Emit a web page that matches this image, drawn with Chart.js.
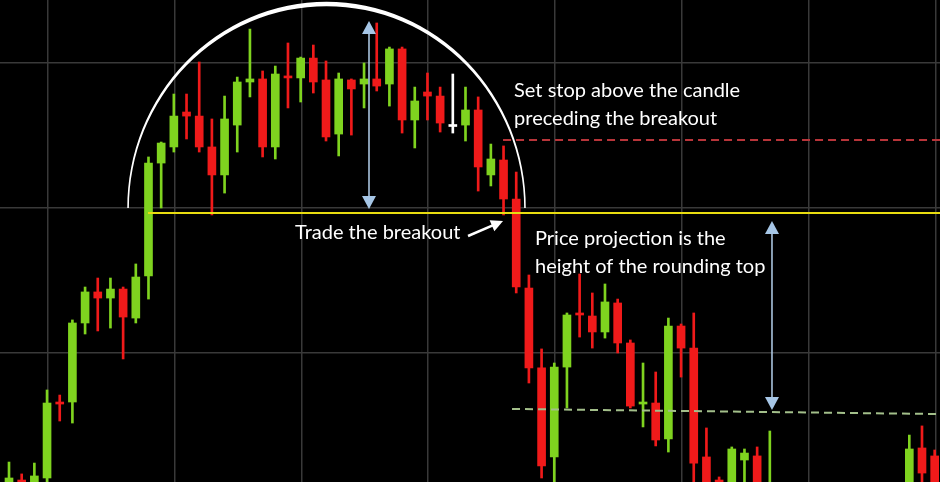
<!DOCTYPE html>
<html>
<head>
<meta charset="utf-8">
<title>Rounding top</title>
<script src="https://cdn.jsdelivr.net/npm/chart.js@4.4.0/dist/chart.umd.min.js"></script>
<style>
    html, body { margin: 0; padding: 0; background: #000; }
    #wrap { width: 940px; height: 482px; }
</style>
</head>
<body>
<div id="wrap"><canvas id="chart"></canvas></div>
<script>
// Données des bougies (null = hors de l'écran)
const opens = [0, 12.4, 5, 13.8, 66.2, 66.2, 120.7, 142.1, 137.9, 144.1,
    124.1, 153.1, 231.0, 242.1, 266.2, 263.4, 242.1, 222.8, 257.2, 286.9,
    289.0, 242.1, 291.0, 289.7, 303.4, 288.3, 251.0, 288.3, 285.5, 289.0,
    285.5, 309.7, 260.7, 280.0, 277.2, 256.2, 257.2, 267.6, 222.8, 233.1,
    206.2, 144.8, 89.7, 28.3, 90.3, 127.6, 125.5, 114.5, 134.5, 106.9,
    64.8, 65.5, 40.7, 118.6, 103.4, 28.3, 12.4, 0, 26.2, 29.0,
    0, null, null, null, null, null, null, null, null, null,
    null, 0, 34.5, 29.0];
const highs = [24.8, 16.6, 24.1, 74.5, 71.0, 122.8, 145.5, 151.7, 151.7, 145.5,
    161.4, 235.2, 245.5, 278.6, 278.6, 300.7, 261.4, 277.2, 290.3, 323.4,
    294.5, 297.9, 313.8, 304.1, 312.4, 301.4, 293.1, 289.0, 300.0, 327.6,
    311.0, 311.0, 283.4, 293.1, 283.4, 292.4, 283.4, 276.6, 244.1, 242.8,
    224.8, 153.8, 102.8, 93.1, 127.6, 154.5, 141.4, 147.6, 137.2, 109.0,
    93.1, 86.9, 124.1, 120.0, 127.6, 48.3, 14.5, 35.2, 33.8, 35.2,
    46.2, null, null, null, null, null, null, null, null, null,
    null, 43.4, 49.7, 33.1];
const lows = [-5, -5, -5, 9.0, 53.1, 51.7, 113.1, 115.2, 117.2, 95.9,
    120.7, 137.2, 200.0, 238.6, 247.6, 238.6, 195.2, 210.3, 238.6, 276.6,
    235.2, 233.8, 269.0, 273.1, 279.3, 246.2, 235.9, 250.3, 269.0, 280.7,
    270.3, 251.7, 241.4, 260.7, 252.4, 251.7, 246.2, 211.7, 215.2, 195.2,
    141.4, 79.3, 13.8, 8.0, 62.1, 111.0, 103.4, 110.3, 100.0, 62.1,
    49.0, 35.9, 31.7, 83.4, 5.5, 0, 0, -5, 0, -5,
    -5, null, null, null, null, null, null, null, null, null,
    null, -5, 0, 0];
const closes = [13.8, 5, 15.2, 65.5, 64.8, 120.7, 142.1, 137.9, 144.1, 124.8,
    152.4, 231.0, 244.8, 263.4, 263.4, 242.1, 222.8, 261.4, 286.9, 289.0,
    242.1, 292.4, 289.7, 303.4, 286.9, 249.0, 289.0, 282.1, 289.0, 284.1,
    309.7, 260.7, 273.8, 277.2, 258.6, 256.2, 267.6, 228.3, 233.8, 206.2,
    145.5, 89.7, 22.1, 90.3, 126.2, 126.2, 114.5, 135.2, 106.9, 63.4,
    66.2, 40.0, 118.6, 103.4, 24.1, 5.5, 2, 33.8, 31.0, 0,
    5, null, null, null, null, null, null, null, null, null,
    null, 33.8, 17.2, 5];

// Grille
const gridX = [3.05, 13.05, 23.05, 33.05, 43.05, 53.05, 63.05, 73.05];
const gridY = [100, 200, 300];

// Niveaux du schéma
const breakoutLevel = 196.6;
const stopLevel = 246.9;
const targetLevel = [61.4, 57.9];

// Couleurs
const GREEN = '#7fd31f';
const RED = '#f01a1a';
const WHITE = '#ffffff';

// Bougies valides uniquement
const candles = [];
opens.forEach((o, i) => {
    if (o === null) return;
    const c = closes[i];
    candles.push({
        i: i,
        body: [o, c],
        wick: [lows[i], highs[i]],
        color: c > o ? GREEN : (c < o ? RED : WHITE)
    });
});

// Plugin pour les annotations (arc, lignes, flèches, textes)
const annotations = {
    id: 'annotations',
    afterDatasetsDraw(chart) {
        const ctx = chart.ctx;
        const x = chart.scales.x;
        const y = chart.scales.y;
        const px = v => x.getPixelForValue(v);
        const py = v => y.getPixelForValue(v);
        ctx.save();

        // Arc du sommet arrondi
        const cx = px(25.04), cy = py(200);
        const rx = px(25.04 + 15.65) - cx;
        const ry = cy - py(200 + 140.7);
        ctx.beginPath();
        ctx.ellipse(cx, cy, rx + 0.8, ry + 2.2, 0, Math.PI, 2 * Math.PI);
        ctx.ellipse(cx, cy, rx - 0.8, ry - 2.2, 0, 2 * Math.PI, Math.PI, true);
        ctx.closePath();
        ctx.fillStyle = WHITE;
        ctx.fill();

        // Ligne de cassure
        ctx.strokeStyle = '#e8dc10';
        ctx.lineWidth = 2;
        ctx.beginPath();
        ctx.moveTo(px(10.96), py(breakoutLevel));
        ctx.lineTo(chart.chartArea.right, py(breakoutLevel));
        ctx.stroke();

        // Stop (pointillés rouges)
        ctx.setLineDash([8, 5]);
        ctx.strokeStyle = '#b8353a';
        ctx.beginPath();
        ctx.moveTo(px(38.96), py(stopLevel));
        ctx.lineTo(chart.chartArea.right, py(stopLevel));
        ctx.stroke();

        // Objectif (pointillés verts)
        ctx.strokeStyle = '#a3bf8a';
        ctx.beginPath();
        ctx.moveTo(px(39.67), py(targetLevel[0]));
        ctx.lineTo(px(73.42), py(targetLevel[1]));
        ctx.stroke();
        ctx.setLineDash([]);

        // Flèches doubles bleues
        function doubleArrow(xv, y1, y2) {
            const ax = px(xv), top = py(y1), bot = py(y2);
            ctx.strokeStyle = '#b5d0ec';
            ctx.fillStyle = '#a6c6e6';
            ctx.lineWidth = 1.5;
            ctx.beginPath();
            ctx.moveTo(ax, top + 8);
            ctx.lineTo(ax, bot - 8);
            ctx.stroke();
            ctx.beginPath();
            ctx.moveTo(ax, top);
            ctx.lineTo(ax - 7, top + 13);
            ctx.lineTo(ax + 7, top + 13);
            ctx.closePath();
            ctx.fill();
            ctx.beginPath();
            ctx.moveTo(ax, bot);
            ctx.lineTo(ax - 7, bot - 13);
            ctx.lineTo(ax + 7, bot - 13);
            ctx.closePath();
            ctx.fill();
        }
        doubleArrow(28.39, 329.0, 199.3);
        doubleArrow(60.17, 191.0, 60.7);

        // Flèche blanche vers la cassure
        const x1 = px(36.2), y1 = py(180.7), x2 = px(38.96), y2 = py(191.0);
        const ang = Math.atan2(y2 - y1, x2 - x1);
        ctx.strokeStyle = WHITE;
        ctx.fillStyle = WHITE;
        ctx.lineWidth = 2.5;
        ctx.beginPath();
        ctx.moveTo(x1, y1);
        ctx.lineTo(x2 - 8 * Math.cos(ang), y2 - 8 * Math.sin(ang));
        ctx.stroke();
        ctx.beginPath();
        ctx.moveTo(x2, y2);
        ctx.lineTo(x2 - 12 * Math.cos(ang) + 6 * Math.sin(ang), y2 - 12 * Math.sin(ang) - 6 * Math.cos(ang));
        ctx.lineTo(x2 - 12 * Math.cos(ang) - 6 * Math.sin(ang), y2 - 12 * Math.sin(ang) + 6 * Math.cos(ang));
        ctx.closePath();
        ctx.fill();

        // Textes
        ctx.font = '20px Lato';
        ctx.fillStyle = WHITE;
        ctx.textAlign = 'left';
        ctx.textBaseline = 'alphabetic';
        ctx.fillText('Set stop above the candle', px(39.83), py(276.6));
        ctx.fillText('preceding the breakout', px(39.83), py(257.2));
        ctx.fillText('Price projection is the', px(41.48), py(174.5));
        ctx.fillText('height of the rounding top', px(41.48), py(155.2));
        ctx.fillText('Trade the breakout', px(22.56), py(178.6));

        ctx.restore();
    }
};

document.addEventListener('DOMContentLoaded', function() {
    const gridOpts = { color: '#393939', lineWidth: 1.5, drawTicks: false, offset: false };

    new Chart(document.getElementById('chart'), {
        type: 'bar',
        data: {
            datasets: [{
                label: 'Corps',
                data: candles.map(c => ({ x: c.i, y: c.body })),
                backgroundColor: candles.map(c => c.color),
                barThickness: 8,
                minBarLength: 2,
                order: 1
            }, {
                label: 'Mèche',
                data: candles.map(c => ({ x: c.i, y: c.wick })),
                backgroundColor: candles.map(c => c.color),
                barThickness: 2,
                order: 2
            }]
        },
        options: {
            responsive: true,
            maintainAspectRatio: false,
            animation: false,
            layout: { padding: 0 },
            datasets: { bar: { grouped: false, borderWidth: 0 } },
            plugins: {
                legend: { display: false },
                tooltip: { enabled: false }
            },
            scales: {
                x: {
                    type: 'linear',
                    offset: false,
                    min: -0.71,
                    max: 73.42,
                    grid: gridOpts,
                    border: { display: false },
                    ticks: { display: false },
                    afterBuildTicks: s => { s.ticks = gridX.map(v => ({ value: v })); }
                },
                y: {
                    min: 11.03,
                    max: 343.45,
                    grid: gridOpts,
                    border: { display: false },
                    ticks: { display: false },
                    afterBuildTicks: s => { s.ticks = gridY.map(v => ({ value: v })); }
                }
            }
        },
        plugins: [annotations]
    });
});
</script>
</body>
</html>
